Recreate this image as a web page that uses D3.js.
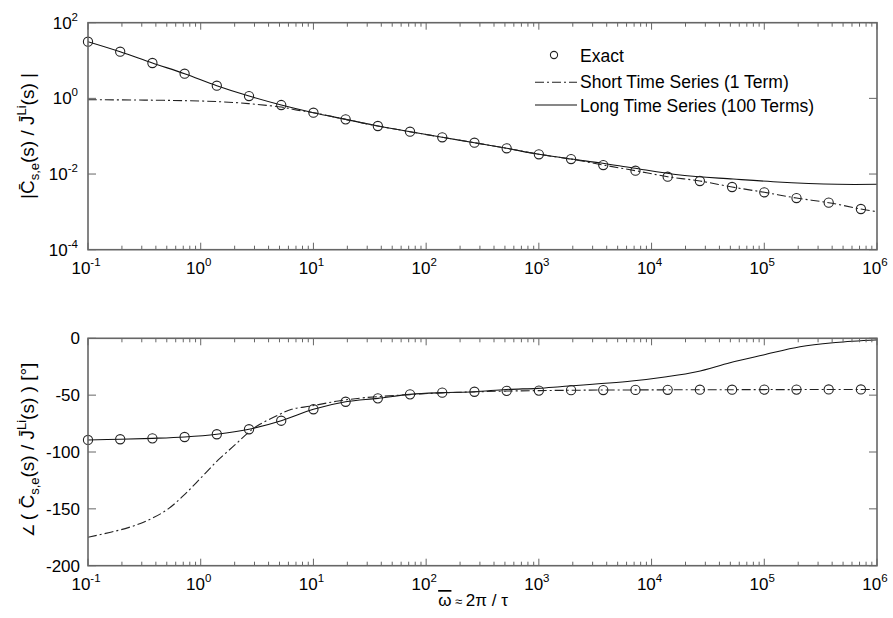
<!DOCTYPE html>
<html><head><meta charset="utf-8">
<script src="https://cdn.jsdelivr.net/npm/d3@7"></script>
<style>body{margin:0;background:#fff}svg{display:block}text{font-family:"Liberation Sans",Arial,sans-serif;fill:#000}</style>
</head><body><svg id="c" width="893" height="618"></svg>
<script>
// ---- data ----
const omegaExact = [0.1,0.19307,0.37276,0.71969,1.3895,2.6827,5.1795,10,19.307,37.276,71.969,138.95,268.27,517.95,1000,1930.7,3727.6,7196.9,13895,26827,51795,100000,193070,372759,719686];
const magExact = [31.5,17.1,8.61,4.49,2.16,1.15,0.667,0.418,0.279,0.186,0.1315,0.0935,0.0673,0.0479,0.0332,0.0249,0.0173,0.01225,0.00849,0.00655,0.00454,0.00329,0.00232,0.00175,0.00119];
const phaseExact = [-89.4,-88.8,-88.0,-86.8,-84.4,-80.0,-72.5,-62.4,-55.8,-52.8,-49.3,-47.8,-47.0,-46.2,-46.0,-45.6,-45.5,-45.4,-45.3,-45.2,-45.2,-45.1,-45.1,-45.0,-45.0];

const omegaShortMag = [0.1,0.316,1,2,3.16,5.18,7.2,10,19.307,37.276,71.969,138.95,268.27,517.95,1000,1930.7,3727.6,7196.9,13895,26827,51795,100000,193070,372759,719686,1000000];
const magShort = [0.923,0.90,0.851,0.776,0.692,0.589,0.49,0.418,0.279,0.186,0.1315,0.0935,0.0673,0.0479,0.0332,0.0249,0.0173,0.01225,0.00849,0.00655,0.00454,0.00329,0.00232,0.00175,0.00119,0.00101];

const omegaLongMag = [0.1,0.19307,0.37276,0.71969,1.3895,2.6827,5.1795,10,19.307,37.276,71.969,138.95,268.27,517.95,1000,1930.7,3565,6855,17906,52840,119700,442600,1000000];
const magLong = [31.5,17.1,8.61,4.49,2.16,1.15,0.667,0.418,0.279,0.186,0.1315,0.0935,0.0673,0.0479,0.0332,0.0249,0.01954,0.01442,0.00942,0.00738,0.00627,0.00535,0.00535];

const omegaShortPhase = [0.1,0.228,0.367,0.515,0.726,1.02,1.43,2.01,2.64,3.24,4.88,6.41,9.66,16.6,28.7,71.969,138.95,268.27,517.95,1000,1930.7,3727.6,7196.9,13895,26827,51795,100000,193070,372759,719686,1000000];
const phaseShort = [-175,-166.5,-158.5,-150,-137,-122,-107,-93.8,-83,-76.5,-67.5,-62.4,-59.5,-55.1,-52.2,-49.5,-48.0,-47.1,-46.4,-46.0,-45.7,-45.5,-45.4,-45.3,-45.2,-45.2,-45.1,-45.1,-45.0,-45.0,-45.0];

const omegaLongPhase = [0.1,0.19307,0.37276,0.71969,1.3895,2.6827,5.1795,10,19.307,37.276,71.969,138.95,268.27,512,977,1542,6668,13610,25120,49660,97950,207500,407400,961600,1000000];
const phaseLong = [-89.4,-88.8,-88.0,-86.8,-84.4,-80.0,-72.5,-62.4,-55.8,-52.8,-49.3,-47.8,-47.0,-45.0,-44.0,-42.6,-37.6,-33.8,-29.4,-21.5,-14.7,-7.4,-3.9,-1.5,-1.4];

const xTickExps = [-1,0,1,2,3,4,5,6];
const yTopTickExps = [2,0,-2,-4];
const yBotTicks = [0,-50,-100,-150,-200];
const legendLabels = ["Exact","Short Time Series (1 Term)","Long Time Series (100 Terms)"];

// ---- layout ----
const svg = d3.select("#c");
const L = 88, R = 877;
const top1 = 22.7, bot1 = 249.7, top2 = 338.3, bot2 = 565.7;
const x = d3.scaleLog().domain([0.1, 1e6]).range([L, R]);
const yTop = d3.scaleLog().domain([1e-4, 1e2]).range([bot1, top1]);
const yBot = d3.scaleLinear().domain([-200, 0]).range([bot2, top2]);
const axisCol = "#666";
const dashDot = "9,3,2,3";

function minorTicks() {
  const out = [];
  for (let e = -1; e < 6; e++) for (let m = 2; m <= 9; m++) out.push(m * Math.pow(10, e));
  return out;
}

function drawFrame(g, top, bot) {
  const ax = g.append("g").attr("stroke", axisCol).attr("fill", "none");
  xTickExps.forEach(e => {
    const px = x(Math.pow(10, e));
    ax.append("line").attr("x1", px).attr("x2", px).attr("y1", bot).attr("y2", bot - 7).attr("stroke-width", 1);
    ax.append("line").attr("x1", px).attr("x2", px).attr("y1", top).attr("y2", top + 7).attr("stroke-width", 1);
  });
  minorTicks().forEach(v => {
    const px = x(v);
    ax.append("line").attr("x1", px).attr("x2", px).attr("y1", bot).attr("y2", bot - 4).attr("stroke-width", 1);
    ax.append("line").attr("x1", px).attr("x2", px).attr("y1", top).attr("y2", top + 4).attr("stroke-width", 1);
  });
  return ax;
}

function yTicks(ax, ys) {
  ys.forEach(py => {
    ax.append("line").attr("x1", L).attr("x2", L + 8).attr("y1", py).attr("y2", py).attr("stroke-width", 1);
    ax.append("line").attr("x1", R).attr("x2", R - 8).attr("y1", py).attr("y2", py).attr("stroke-width", 1);
  });
}

function box(ax, top, bot) {
  ax.append("rect").attr("x", L).attr("y", top).attr("width", R - L).attr("height", bot - top)
    .attr("stroke-width", 1.6).attr("stroke", axisCol);
}

function powLabel(g, px, py, exp, anchor) {
  const t = g.append("text").attr("x", px).attr("y", py).attr("text-anchor", anchor).style("font-size", "17px");
  t.append("tspan").text("10");
  t.append("tspan").attr("dy", -8).style("font-size", "11.5px").text(exp < 0 ? "-" + (-exp) : String(exp));
}

function xLabels(g, bot) {
  xTickExps.forEach(e => powLabel(g, x(Math.pow(10, e)) - 2, bot + 24.5, e, "middle"));
}

const lineFn = (ys) => d3.line().x(d => x(d[0])).y(d => ys(d[1])).curve(d3.curveCatmullRom.alpha(0.5));

// ---------- top panel ----------
const g1 = svg.append("g");
svg.append("clipPath").attr("id", "clip1").append("rect").attr("x", L).attr("y", top1).attr("width", R - L).attr("height", bot1 - top1);
const p1 = g1.append("g").attr("clip-path", "url(#clip1)");
p1.append("path").datum(d3.zip(omegaLongMag, magLong)).attr("d", lineFn(yTop))
  .attr("fill", "none").attr("stroke", "#111").attr("stroke-width", 1.1);
p1.append("path").datum(d3.zip(omegaShortMag, magShort)).attr("d", lineFn(yTop))
  .attr("fill", "none").attr("stroke", "#222").attr("stroke-width", 1.1).attr("stroke-dasharray", dashDot);
g1.append("g").selectAll("circle").data(d3.zip(omegaExact, magExact)).join("circle")
  .attr("cx", d => x(d[0])).attr("cy", d => yTop(d[1])).attr("r", 4.6)
  .attr("fill", "none").attr("stroke", "#222").attr("stroke-width", 1.1);
const ax1 = drawFrame(g1, top1, bot1);
yTicks(ax1, yTopTickExps.map(e => yTop(Math.pow(10, e))));
box(ax1, top1, bot1);
yTopTickExps.forEach(e => powLabel(g1, 78, yTop(Math.pow(10, e)) + 6, e, "end"));
xLabels(g1, bot1);

// legend
const lg = g1.append("g");
lg.append("circle").attr("cx", 554).attr("cy", 55).attr("r", 3.6).attr("fill", "none").attr("stroke", "#222").attr("stroke-width", 1.1);
lg.append("line").attr("x1", 535).attr("x2", 577).attr("y1", 82.3).attr("y2", 82.3).attr("stroke", "#222").attr("stroke-width", 1.1).attr("stroke-dasharray", dashDot);
lg.append("line").attr("x1", 535).attr("x2", 577).attr("y1", 105).attr("y2", 105).attr("stroke", "#111").attr("stroke-width", 1.1);
[61.5, 88.3, 111.5].forEach((yy, i) => {
  lg.append("text").attr("x", 580).attr("y", yy).style("font-size", "17.5px").text(legendLabels[i]);
});

// y label top
const yl1 = g1.append("text").attr("transform", "translate(34,136) rotate(-90)").attr("text-anchor", "middle").style("font-size", "19px");
yl1.append("tspan").text("|C\u0304");
yl1.append("tspan").attr("dy", 5).style("font-size", "13px").text("s,e");
yl1.append("tspan").attr("dy", -5).text("(s) / J\u0304");
yl1.append("tspan").attr("dy", -8).style("font-size", "13px").text("Li");
yl1.append("tspan").attr("dy", 8).text("(s) |");

// ---------- bottom panel ----------
const g2 = svg.append("g");
svg.append("clipPath").attr("id", "clip2").append("rect").attr("x", L).attr("y", top2).attr("width", R - L).attr("height", bot2 - top2);
const p2 = g2.append("g").attr("clip-path", "url(#clip2)");
p2.append("path").datum(d3.zip(omegaLongPhase, phaseLong)).attr("d", lineFn(yBot))
  .attr("fill", "none").attr("stroke", "#111").attr("stroke-width", 1.1);
p2.append("path").datum(d3.zip(omegaShortPhase, phaseShort)).attr("d", lineFn(yBot))
  .attr("fill", "none").attr("stroke", "#222").attr("stroke-width", 1.1).attr("stroke-dasharray", dashDot);
g2.append("g").selectAll("circle").data(d3.zip(omegaExact, phaseExact)).join("circle")
  .attr("cx", d => x(d[0])).attr("cy", d => yBot(d[1])).attr("r", 4.6)
  .attr("fill", "none").attr("stroke", "#222").attr("stroke-width", 1.1);
const ax2 = drawFrame(g2, top2, bot2);
yTicks(ax2, yBotTicks.map(v => yBot(v)));
box(ax2, top2, bot2);
yBotTicks.forEach(v => {
  g2.append("text").attr("x", 80).attr("y", yBot(v) + 6).attr("text-anchor", "end").style("font-size", "17px").text(String(v));
});
xLabels(g2, bot2);

// y label bottom
const yl2 = g2.append("text").attr("transform", "translate(34,450) rotate(-90)").attr("text-anchor", "middle").style("font-size", "19px");
yl2.append("tspan").style("font-size", "15px").text("\u2220 ");
yl2.append("tspan").text("( C\u0304");
yl2.append("tspan").attr("dy", 5).style("font-size", "13px").text("s,e");
yl2.append("tspan").attr("dy", -5).text("(s) / J\u0304");
yl2.append("tspan").attr("dy", -8).style("font-size", "13px").text("Li");
yl2.append("tspan").attr("dy", 8).text("(s) ) [\u00B0]");

// x label
const xl = svg.append("text").attr("x", 473).attr("y", 606).attr("text-anchor", "middle").style("font-size", "17px");
xl.append("tspan").style("text-decoration", "overline").text("\u03C9");
xl.append("tspan").style("font-size", "13px").text(" \u2248 ");
xl.append("tspan").text("2\u03C0 / \u03C4");
</script></body></html>
